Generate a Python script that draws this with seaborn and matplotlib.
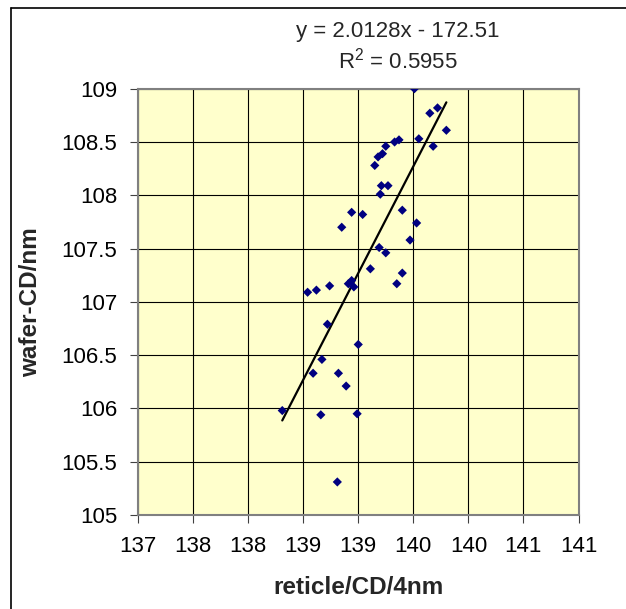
import numpy as np
import pandas as pd
import matplotlib
matplotlib.use("Agg")
import matplotlib.pyplot as plt
from matplotlib.lines import Line2D
import seaborn as sns

reticle_cd = [139.51, 139.65, 139.72, 139.80, 139.55, 139.68, 139.37, 139.33, 139.25, 139.18,
              139.22, 139.15, 139.21, 139.27, 139.20, 138.94, 139.04, 138.85, 139.40, 139.53,
              139.47, 139.19, 139.25, 139.11, 139.40, 139.35, 138.91, 138.94, 138.96, 138.74,
              138.62, 138.54, 138.72, 139.00, 138.67, 138.59, 138.82, 138.89, 138.31, 138.66,
              138.99, 138.81]
wafer_cd = [109.00, 108.77, 108.82, 108.61, 108.53, 108.46, 108.52, 108.50, 108.46, 108.36,
            108.39, 108.28, 108.09, 108.09, 108.01, 107.84, 107.82, 107.70, 107.86, 107.74,
            107.58, 107.51, 107.46, 107.31, 107.27, 107.17, 107.17, 107.20, 107.14, 107.15,
            107.11, 107.09, 106.79, 106.60, 106.46, 106.33, 106.33, 106.21, 105.98, 105.94,
            105.95, 105.31]
x_ticks = [137.0, 137.5, 138.0, 138.5, 139.0, 139.5, 140.0, 140.5, 141.0]
x_tick_labels = ["137", "138", "138", "139", "139", "140", "140", "141", "141"]
y_ticks = [105, 105.5, 106, 106.5, 107, 107.5, 108, 108.5, 109]
y_tick_labels = ["105", "105.5", "106", "106.5", "107", "107.5", "108", "108.5", "109"]
equation_text = "y = 2.0128x - 172.51"
r2_text = "R$^2$ = 0.5955"
x_label = "reticle/CD/4nm"
y_label = "wafer-CD/nm"

df = pd.DataFrame({"reticle": reticle_cd, "wafer": wafer_cd})

sns.set_theme(style="white")
plt.rcParams["font.family"] = ["Liberation Sans", "DejaVu Sans"]
plt.rcParams["mathtext.fontset"] = "custom"
plt.rcParams["mathtext.rm"] = "Liberation Sans"

W, H = 626, 609
fig = plt.figure(figsize=(W / 100, H / 100), dpi=100)
fig.patch.set_facecolor("white")

ax = fig.add_axes([138 / W, 1 - 515 / H, (578.5 - 138) / W, (515 - 88.7) / H])
ax.set_facecolor("#FFFFCC")

sns.regplot(data=df, x="reticle", y="wafer", ax=ax, scatter=False, ci=None,
            truncate=True, line_kws=dict(color="black", lw=1.6, zorder=3))
sns.scatterplot(data=df, x="reticle", y="wafer", ax=ax, marker="D", s=22,
                color="#000080", edgecolor="none", linewidth=0, zorder=4)

ax.set_xlim(137, 141)
ax.set_ylim(105, 109)
ax.set_xticks(x_ticks)
ax.set_xticklabels(x_tick_labels)
ax.set_yticks(y_ticks)
ax.set_yticklabels(y_tick_labels)
ax.grid(True, color="black", lw=0.8)
ax.set_axisbelow(True)
for s in ax.spines.values():
    s.set_color("#808080")
    s.set_linewidth(1.5)
ax.tick_params(axis="both", which="both", direction="out", length=6, width=0.8,
               color="#404040", labelsize=16, pad=9, labelcolor="black")
ax.tick_params(axis="x", bottom=True)
ax.tick_params(axis="y", left=True)
ax.set_xlabel(x_label, fontsize=17.5, fontweight="bold", labelpad=14)
ax.set_ylabel(y_label, fontsize=17.5, fontweight="bold", labelpad=14)

fig.text(398 / W, 1 - 36.8 / H, equation_text, ha="center", va="baseline", fontsize=16)
fig.text(398 / W, 1 - 68.6 / H, r2_text, ha="center", va="baseline", fontsize=16)

# outer chart-area border
fig.add_artist(Line2D([11 / W, 1], [1 - 8.3 / H, 1 - 8.3 / H], color="black", lw=1.2,
                      transform=fig.transFigure))
fig.add_artist(Line2D([11 / W, 11 / W], [0, 1 - 8.3 / H], color="black", lw=1.2,
                      transform=fig.transFigure))

fig.savefig("out.png", dpi=100, facecolor="white")
